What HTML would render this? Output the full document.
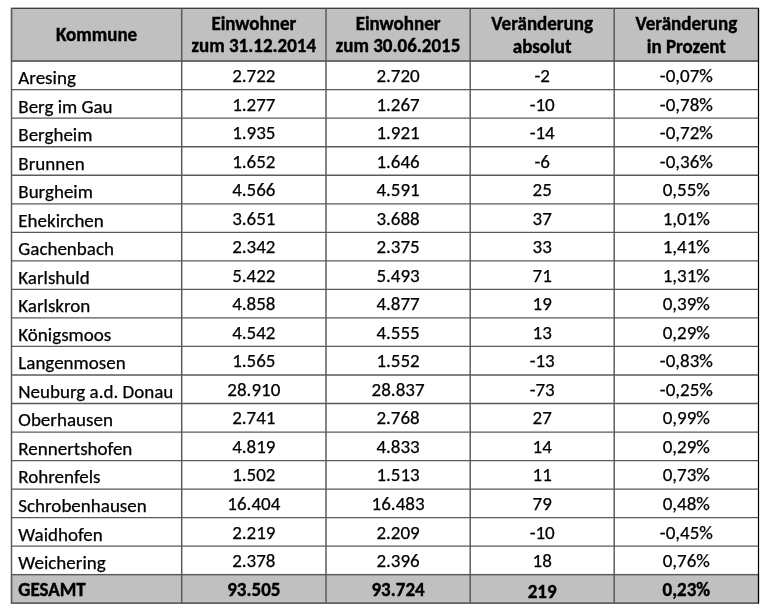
<!DOCTYPE html>
<html><head><meta charset="utf-8"><style>
html,body{margin:0;padding:0;background:#fff;width:768px;height:612px;overflow:hidden}
#g{position:absolute;left:0;top:0}
.c{position:absolute;height:0;line-height:0;white-space:nowrap;color:#000;font-family:Carlito,"Liberation Sans",sans-serif;font-size:19px}
.c.m{text-align:center}
.b{font-weight:bold}
.c{-webkit-text-stroke:0.25px #000}
.c.b{-webkit-text-stroke:0.4px #000;transform:scaleY(1.05);transform-origin:0 6px}
.nc .c{font-family:"Liberation Sans",sans-serif;font-size:17px;-webkit-text-stroke:0.1px #000}
</style>
<script>
(function(){try{var c=document.createElement('canvas').getContext('2d'),t='Neuburg a.d. Donau 0123';
c.font='40px monospace';var a=c.measureText(t).width;
c.font='40px Carlito, monospace';var b=c.measureText(t).width;
if(Math.abs(a-b)<0.01)document.documentElement.className='nc';}catch(e){}})();
</script></head><body>
<svg id="g" width="768" height="612" viewBox="0 0 768 612" stroke="#5a5a5a" stroke-width="1.2">
<rect x="11.5" y="8.4" width="747.0" height="52.6" fill="#c0c0c0"/>
<rect x="11.5" y="574.54" width="747.0" height="28.660000000000082" fill="#c0c0c0"/>
<line x1="11.5" y1="61.15" x2="758.5" y2="61.15" stroke-width="1.3"/>
<line x1="11.5" y1="89.68" x2="758.5" y2="89.68" stroke-width="1.3"/>
<line x1="11.5" y1="118.21" x2="758.5" y2="118.21" stroke-width="1.3"/>
<line x1="11.5" y1="146.74" x2="758.5" y2="146.74" stroke-width="1.3"/>
<line x1="11.5" y1="175.27" x2="758.5" y2="175.27" stroke-width="1.3"/>
<line x1="11.5" y1="203.80" x2="758.5" y2="203.80" stroke-width="1.3"/>
<line x1="11.5" y1="232.33" x2="758.5" y2="232.33" stroke-width="1.3"/>
<line x1="11.5" y1="260.86" x2="758.5" y2="260.86" stroke-width="1.3"/>
<line x1="11.5" y1="289.39" x2="758.5" y2="289.39" stroke-width="1.3"/>
<line x1="11.5" y1="317.92" x2="758.5" y2="317.92" stroke-width="1.3"/>
<line x1="11.5" y1="346.45" x2="758.5" y2="346.45" stroke-width="1.3"/>
<line x1="11.5" y1="374.98" x2="758.5" y2="374.98" stroke-width="1.3"/>
<line x1="11.5" y1="403.51" x2="758.5" y2="403.51" stroke-width="1.3"/>
<line x1="11.5" y1="432.04" x2="758.5" y2="432.04" stroke-width="1.3"/>
<line x1="11.5" y1="460.57" x2="758.5" y2="460.57" stroke-width="1.3"/>
<line x1="11.5" y1="489.10" x2="758.5" y2="489.10" stroke-width="1.3"/>
<line x1="11.5" y1="517.63" x2="758.5" y2="517.63" stroke-width="1.3"/>
<line x1="11.5" y1="546.16" x2="758.5" y2="546.16" stroke-width="1.3"/>
<line x1="11.5" y1="574.69" x2="758.5" y2="574.69" stroke-width="1.3"/>
<line x1="11.5" y1="8.4" x2="758.5" y2="8.4" stroke="#404040"/>
<line x1="11.5" y1="603.2" x2="758.5" y2="603.2"/>
<line x1="11.5" y1="8.4" x2="11.5" y2="603.2" stroke="#585858" stroke-width="1.45"/>
<line x1="181.7" y1="8.4" x2="181.7" y2="603.2" stroke="#585858" stroke-width="1.45"/>
<line x1="326.0" y1="8.4" x2="326.0" y2="603.2" stroke="#585858" stroke-width="1.45"/>
<line x1="470.2" y1="8.4" x2="470.2" y2="603.2" stroke="#585858" stroke-width="1.45"/>
<line x1="614.2" y1="8.4" x2="614.2" y2="603.2" stroke="#585858" stroke-width="1.45"/>
<line x1="758.5" y1="8.4" x2="758.5" y2="603.2" stroke="#000"/>
</svg>
<div class="c n" style="left:18.3px;top:78px">Aresing</div>
<div class="c n m" style="left:181.7px;width:144.3px;top:76px">2.722</div>
<div class="c n m" style="left:326.0px;width:144.2px;top:76px">2.720</div>
<div class="c n m" style="left:470.2px;width:144.0px;top:76px">-2</div>
<div class="c n m" style="left:614.2px;width:144.3px;top:76px">-0,07%</div>
<div class="c n" style="left:18.3px;top:107px">Berg im Gau</div>
<div class="c n m" style="left:181.7px;width:144.3px;top:105px">1.277</div>
<div class="c n m" style="left:326.0px;width:144.2px;top:105px">1.267</div>
<div class="c n m" style="left:470.2px;width:144.0px;top:105px">-10</div>
<div class="c n m" style="left:614.2px;width:144.3px;top:105px">-0,78%</div>
<div class="c n" style="left:18.3px;top:135px">Bergheim</div>
<div class="c n m" style="left:181.7px;width:144.3px;top:133px">1.935</div>
<div class="c n m" style="left:326.0px;width:144.2px;top:133px">1.921</div>
<div class="c n m" style="left:470.2px;width:144.0px;top:133px">-14</div>
<div class="c n m" style="left:614.2px;width:144.3px;top:133px">-0,72%</div>
<div class="c n" style="left:18.3px;top:164px">Brunnen</div>
<div class="c n m" style="left:181.7px;width:144.3px;top:162px">1.652</div>
<div class="c n m" style="left:326.0px;width:144.2px;top:162px">1.646</div>
<div class="c n m" style="left:470.2px;width:144.0px;top:162px">-6</div>
<div class="c n m" style="left:614.2px;width:144.3px;top:162px">-0,36%</div>
<div class="c n" style="left:18.3px;top:192px">Burgheim</div>
<div class="c n m" style="left:181.7px;width:144.3px;top:190px">4.566</div>
<div class="c n m" style="left:326.0px;width:144.2px;top:190px">4.591</div>
<div class="c n m" style="left:470.2px;width:144.0px;top:190px">25</div>
<div class="c n m" style="left:614.2px;width:144.3px;top:190px">0,55%</div>
<div class="c n" style="left:18.3px;top:221px">Ehekirchen</div>
<div class="c n m" style="left:181.7px;width:144.3px;top:219px">3.651</div>
<div class="c n m" style="left:326.0px;width:144.2px;top:219px">3.688</div>
<div class="c n m" style="left:470.2px;width:144.0px;top:219px">37</div>
<div class="c n m" style="left:614.2px;width:144.3px;top:219px">1,01%</div>
<div class="c n" style="left:18.3px;top:249px">Gachenbach</div>
<div class="c n m" style="left:181.7px;width:144.3px;top:247px">2.342</div>
<div class="c n m" style="left:326.0px;width:144.2px;top:247px">2.375</div>
<div class="c n m" style="left:470.2px;width:144.0px;top:247px">33</div>
<div class="c n m" style="left:614.2px;width:144.3px;top:247px">1,41%</div>
<div class="c n" style="left:18.3px;top:278px">Karlshuld</div>
<div class="c n m" style="left:181.7px;width:144.3px;top:276px">5.422</div>
<div class="c n m" style="left:326.0px;width:144.2px;top:276px">5.493</div>
<div class="c n m" style="left:470.2px;width:144.0px;top:276px">71</div>
<div class="c n m" style="left:614.2px;width:144.3px;top:276px">1,31%</div>
<div class="c n" style="left:18.3px;top:306px">Karlskron</div>
<div class="c n m" style="left:181.7px;width:144.3px;top:304px">4.858</div>
<div class="c n m" style="left:326.0px;width:144.2px;top:304px">4.877</div>
<div class="c n m" style="left:470.2px;width:144.0px;top:304px">19</div>
<div class="c n m" style="left:614.2px;width:144.3px;top:304px">0,39%</div>
<div class="c n" style="left:18.3px;top:335px">Königsmoos</div>
<div class="c n m" style="left:181.7px;width:144.3px;top:333px">4.542</div>
<div class="c n m" style="left:326.0px;width:144.2px;top:333px">4.555</div>
<div class="c n m" style="left:470.2px;width:144.0px;top:333px">13</div>
<div class="c n m" style="left:614.2px;width:144.3px;top:333px">0,29%</div>
<div class="c n" style="left:18.3px;top:363px">Langenmosen</div>
<div class="c n m" style="left:181.7px;width:144.3px;top:361px">1.565</div>
<div class="c n m" style="left:326.0px;width:144.2px;top:361px">1.552</div>
<div class="c n m" style="left:470.2px;width:144.0px;top:361px">-13</div>
<div class="c n m" style="left:614.2px;width:144.3px;top:361px">-0,83%</div>
<div class="c n" style="left:18.3px;top:392px">Neuburg a.d. Donau</div>
<div class="c n m" style="left:181.7px;width:144.3px;top:390px">28.910</div>
<div class="c n m" style="left:326.0px;width:144.2px;top:390px">28.837</div>
<div class="c n m" style="left:470.2px;width:144.0px;top:390px">-73</div>
<div class="c n m" style="left:614.2px;width:144.3px;top:390px">-0,25%</div>
<div class="c n" style="left:18.3px;top:420px">Oberhausen</div>
<div class="c n m" style="left:181.7px;width:144.3px;top:418px">2.741</div>
<div class="c n m" style="left:326.0px;width:144.2px;top:418px">2.768</div>
<div class="c n m" style="left:470.2px;width:144.0px;top:418px">27</div>
<div class="c n m" style="left:614.2px;width:144.3px;top:418px">0,99%</div>
<div class="c n" style="left:18.3px;top:449px">Rennertshofen</div>
<div class="c n m" style="left:181.7px;width:144.3px;top:447px">4.819</div>
<div class="c n m" style="left:326.0px;width:144.2px;top:447px">4.833</div>
<div class="c n m" style="left:470.2px;width:144.0px;top:447px">14</div>
<div class="c n m" style="left:614.2px;width:144.3px;top:447px">0,29%</div>
<div class="c n" style="left:18.3px;top:477px">Rohrenfels</div>
<div class="c n m" style="left:181.7px;width:144.3px;top:475px">1.502</div>
<div class="c n m" style="left:326.0px;width:144.2px;top:475px">1.513</div>
<div class="c n m" style="left:470.2px;width:144.0px;top:475px">11</div>
<div class="c n m" style="left:614.2px;width:144.3px;top:475px">0,73%</div>
<div class="c n" style="left:18.3px;top:506px">Schrobenhausen</div>
<div class="c n m" style="left:181.7px;width:144.3px;top:504px">16.404</div>
<div class="c n m" style="left:326.0px;width:144.2px;top:504px">16.483</div>
<div class="c n m" style="left:470.2px;width:144.0px;top:504px">79</div>
<div class="c n m" style="left:614.2px;width:144.3px;top:504px">0,48%</div>
<div class="c n" style="left:18.3px;top:535px">Waidhofen</div>
<div class="c n m" style="left:181.7px;width:144.3px;top:533px">2.219</div>
<div class="c n m" style="left:326.0px;width:144.2px;top:533px">2.209</div>
<div class="c n m" style="left:470.2px;width:144.0px;top:533px">-10</div>
<div class="c n m" style="left:614.2px;width:144.3px;top:533px">-0,45%</div>
<div class="c n" style="left:18.3px;top:563px">Weichering</div>
<div class="c n m" style="left:181.7px;width:144.3px;top:561px">2.378</div>
<div class="c n m" style="left:326.0px;width:144.2px;top:561px">2.396</div>
<div class="c n m" style="left:470.2px;width:144.0px;top:561px">18</div>
<div class="c n m" style="left:614.2px;width:144.3px;top:561px">0,76%</div>
<div class="c b" style="left:18.3px;top:590px">GESAMT</div>
<div class="c b m" style="left:181.7px;width:144.3px;top:590px">93.505</div>
<div class="c b m" style="left:326.0px;width:144.2px;top:590px">93.724</div>
<div class="c b m" style="left:470.2px;width:144.0px;top:592px">219</div>
<div class="c b m" style="left:614.2px;width:144.3px;top:590px">0,23%</div>
<div class="c b m" style="left:11.5px;width:170.2px;top:35px">Kommune</div>
<div class="c b m" style="left:181.7px;width:144.3px;top:24px">Einwohner</div>
<div class="c b m" style="left:181.7px;width:144.3px;top:46px">zum 31.12.2014</div>
<div class="c b m" style="left:326.0px;width:144.2px;top:24px">Einwohner</div>
<div class="c b m" style="left:326.0px;width:144.2px;top:46px">zum 30.06.2015</div>
<div class="c b m" style="left:470.2px;width:144.0px;top:24px">Veränderung</div>
<div class="c b m" style="left:470.2px;width:144.0px;top:47px">absolut</div>
<div class="c b m" style="left:614.2px;width:144.3px;top:24px">Veränderung</div>
<div class="c b m" style="left:614.2px;width:144.3px;top:47px">in Prozent</div>
</body></html>
